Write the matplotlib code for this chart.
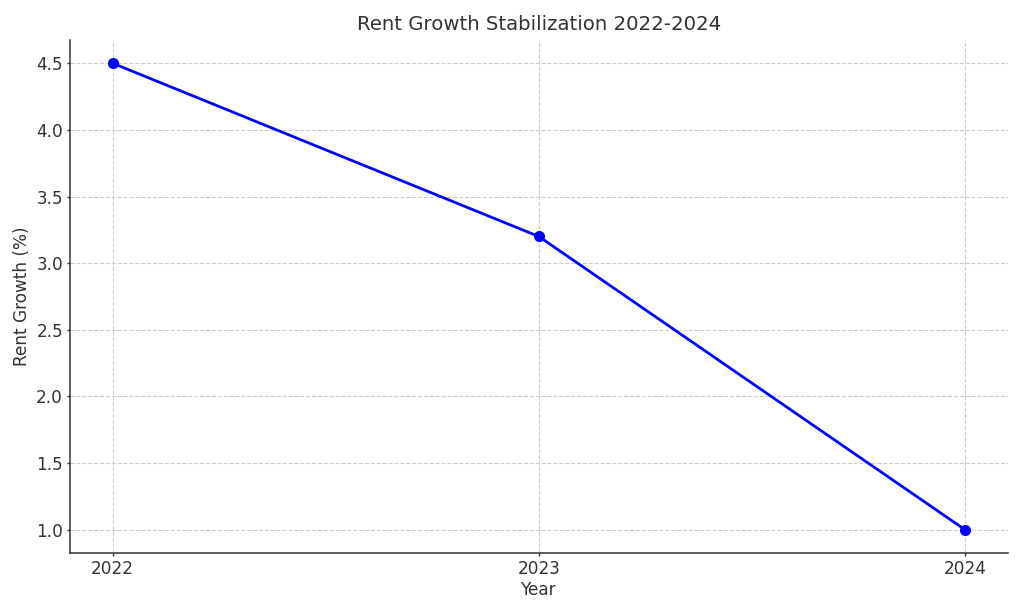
import matplotlib
matplotlib.use("Agg")
import matplotlib.pyplot as plt

years = [2022, 2023, 2024]
rent_growth = [4.5, 3.2, 1.0]

plt.rcParams['font.family'] = ['DejaVu Sans']
txt = '#333333'

fig = plt.figure(figsize=(10.24, 6.14), dpi=100)
ax = fig.add_axes([0.0684, 0.0993, 0.9156, 0.8357])

ax.plot(years, rent_growth, marker='o', color='blue', linewidth=2, markersize=7)

ax.set_title('Rent Growth Stabilization 2022-2024', fontsize=14.2, color=txt, pad=7)
ax.set_xlabel('Year', fontsize=12.2, color=txt, labelpad=2)
ax.set_ylabel('Rent Growth (%)', fontsize=12.2, color=txt, labelpad=4)
ax.set_xticks(years)
ax.tick_params(labelsize=12.2, colors=txt, length=2.5, pad=2.5, width=1)
ax.grid(True, linestyle='--', color='#cccccc', linewidth=0.8)
ax.spines['top'].set_visible(False)
ax.spines['right'].set_visible(False)
for s in ['left', 'bottom']:
    ax.spines[s].set_color('#333333')
    ax.spines[s].set_linewidth(1.1)

fig.savefig('out.png', dpi=100)
